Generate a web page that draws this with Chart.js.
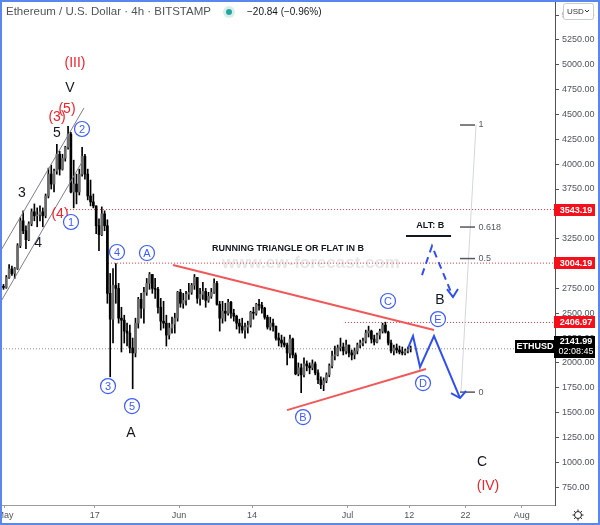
<!DOCTYPE html>
<html>
<head>
<meta charset="utf-8">
<script src="https://cdn.jsdelivr.net/npm/chart.js@4"></script>
<style>
  html, body { margin: 0; padding: 0; background: #fff; }
  canvas { display: block; }
</style>
</head>
<body>
<canvas id="chart" width="600" height="525"></canvas>
<script>
// x unit = days from Jun 1 2021; 12h candles, first one opens Apr 30 00:00
const firstCandleDay = -32;
const firstOpen = 2757;
const highs = [
  2800, 2790, 2880, 2990, 2975, 2960, 3200, 3460, 3530, 3380, 3420, 3550, 3600, 3560, 3580, 3560,
  3700, 3960, 3990, 3950, 4200, 4130, 4100, 4180, 4380, 4320, 4040, 3900, 3950, 4170, 4100, 3950,
  3840, 3700, 3580, 3450, 3570, 3530, 3440, 2900, 2950, 3000, 2800, 2560, 2480, 2400, 2380, 2250,
  2450, 2660, 2700, 2760, 2850, 2910, 2890, 2850, 2760, 2650, 2620, 2480, 2400, 2460, 2500, 2720,
  2740, 2700, 2720, 2800, 2800, 2890, 2860, 2750, 2810, 2750, 2710, 2750, 2845, 2820, 2620, 2620,
  2600, 2640, 2620, 2540, 2480, 2440, 2450, 2400, 2420, 2520, 2560, 2600, 2640, 2610, 2560, 2480,
  2460, 2440, 2370, 2300, 2280, 2260, 2200, 2280, 2250, 2100, 2000, 1990, 2050, 2020, 2000, 2030,
  2010, 1930, 1860, 1850, 1900, 1990, 2120, 2170, 2180, 2250, 2200, 2230, 2180, 2130, 2150, 2200,
  2230, 2250, 2330, 2370, 2330, 2280, 2300, 2340, 2400, 2410, 2320, 2230, 2180, 2190, 2170, 2160,
  2140, 2160, 2170
];
const lows = [
  2720, 2740, 2750, 2850, 2880, 2850, 2940, 3160, 3300, 3150, 3230, 3380, 3430, 3370, 3430, 3370,
  3460, 3660, 3750, 3720, 3900, 3890, 3940, 4030, 4150, 3710, 3560, 3600, 3690, 3880, 3850, 3640,
  3580, 3560, 3300, 3130, 3280, 3330, 2600, 1860, 2200, 2600, 2400, 2110, 2200, 2170, 2100, 1740,
  2060, 2350, 2450, 2400, 2680, 2740, 2700, 2650, 2500, 2330, 2350, 2170, 2240, 2300, 2300, 2420,
  2560, 2550, 2580, 2640, 2690, 2740, 2600, 2580, 2640, 2560, 2610, 2650, 2700, 2580, 2320, 2400,
  2420, 2480, 2450, 2420, 2340, 2300, 2300, 2250, 2300, 2360, 2440, 2480, 2530, 2500, 2440, 2340,
  2330, 2320, 2230, 2170, 2160, 2160, 1980, 2050, 2050, 1880, 1870, 1700, 1860, 1920, 1890, 1930,
  1880, 1790, 1740, 1720, 1800, 1860, 1950, 2030, 2070, 2120, 2080, 2090, 2060, 2030, 2040, 2090,
  2150, 2170, 2200, 2260, 2200, 2180, 2200, 2240, 2300, 2300, 2180, 2100, 2080, 2100, 2090, 2080,
  2080, 2100, 2110
];
const closes = [
  2770, 2760, 2860, 2945, 2900, 2950, 3180, 3430, 3330, 3240, 3400, 3520, 3480, 3490, 3520, 3480,
  3680, 3900, 3800, 3930, 4100, 3950, 4060, 4170, 4300, 3720, 3800, 3720, 3900, 4080, 3900, 3680,
  3620, 3580, 3380, 3290, 3500, 3380, 2700, 2440, 2780, 2750, 2450, 2430, 2320, 2300, 2150, 2100,
  2400, 2640, 2550, 2710, 2800, 2890, 2750, 2740, 2560, 2420, 2400, 2280, 2350, 2390, 2450, 2710,
  2600, 2630, 2690, 2710, 2780, 2860, 2650, 2690, 2720, 2630, 2670, 2710, 2800, 2590, 2450, 2520,
  2500, 2610, 2500, 2470, 2400, 2370, 2330, 2360, 2380, 2510, 2500, 2590, 2580, 2550, 2460, 2360,
  2400, 2370, 2250, 2230, 2200, 2180, 2100, 2240, 2080, 1890, 1950, 1880, 1990, 1970, 1950, 1990,
  1900, 1830, 1780, 1820, 1880, 1970, 2070, 2080, 2150, 2160, 2120, 2180, 2100, 2080, 2120, 2180,
  2200, 2220, 2300, 2320, 2240, 2210, 2280, 2320, 2380, 2310, 2200, 2120, 2150, 2130, 2110, 2100,
  2120, 2140, 2142
];

const xTickDays = [-31, -15, 0, 13, 30, 41, 51, 61];
const xTickLabels = ['May', '17', 'Jun', '14', 'Jul', '12', '22', 'Aug'];
const yTickValues = [750, 1000, 1250, 1500, 1750, 2000, 2250, 2500, 2750, 3000, 3250, 3500,
  3750, 4000, 4250, 4500, 4750, 5000, 5250, 5500];

const lastPrice = 2141.99;
const redLevels = [3543.19, 3004.19, 2406.97];
const redLevelStarts = [-19.94, -12.64, 29.55];

// drawings, [day, price]
const upperTriangle = [[-1.07, 2985], [45.40, 2331]];
const lowerTriangle = [[19.23, 1525], [43.97, 1938]];
const projection = [[40.77, 2149], [41.66, 2270], [42.91, 1958], [45.40, 2270], [50.03, 1646]];
const projectionHead = [[48.43, 1696], [50.03, 1646], [51.10, 1717]];
const altPath = [[43.26, 2884], [45.04, 3176], [48.78, 2663]];
const altHead = [[47.71, 2743], [48.78, 2663], [49.67, 2743]];
const channelUpper = [[-31.87, 3116], [-16.91, 4566]];
const channelLower = [[-31.87, 2602], [-17.27, 4022]];
const altUnderline = [[40.41, 3277], [48.43, 3277]];
const fibStem = [[52.88, 4394], [50.20, 1706]];
const fibHigh = 4394;
const fibLow = 1706;
const fibRatios = [1, 0.618, 0.5, 0];
const fibRatioLabels = ['1', '0.618', '0.5', '0'];

const waveLabels = [
  ['(III)', -18.52, 5018, 'red'], ['V', -19.41, 4767, 'black'], ['(5)', -19.94, 4555, 'red'],
  ['(3)', -21.72, 4475, 'red'], ['5', -21.72, 4314, 'black'], ['3', -27.95, 3710, 'black'],
  ['(4)', -21.19, 3498, 'red'], ['4', -25.10, 3206, 'black'], ['A', -8.55, 1294, 'black'],
  ['B', 46.47, 2633, 'black'], ['C', 53.94, 1002, 'black'], ['(IV)', 55.01, 760, 'red']
];
const circledLabels = [
  ['2', -17.27, 4354], ['1', -19.23, 3418], ['4', -11.04, 3116], ['A', -5.70, 3106],
  ['3', -12.64, 1767], ['5', -8.37, 1566], ['C', 37.21, 2623], ['E', 46.11, 2441],
  ['D', 43.44, 1797], ['B', 22.08, 1455]
];
const titleLabels = [['RUNNING TRIANGLE OR FLAT IN B', 19.41, 3156], ['ALT: B', 44.73, 3378]];
const watermark = ['www.ew-forecast.com', 23.5, 3005];

const FONT = '"Liberation Sans", Arial, sans-serif';
const BLUE = '#2f50f0';
const RED = '#f2212b';

const candleX = closes.map((c, i) => firstCandleDay + 0.25 + i * 0.5);
const opens = closes.map((c, i) => (i === 0 ? firstOpen : closes[i - 1]));
const wicks = closes.map((c, i) => ({ x: candleX[i], y: [lows[i], highs[i]] }));
const bodies = closes.map((c, i) => ({ x: candleX[i], y: [Math.min(opens[i], c), Math.max(opens[i], c)] }));
const bodyColors = closes.map((c, i) => (c >= opens[i] ? '#6a6a6a' : '#000000'));

const pts = arr => arr.map(p => ({ x: p[0], y: p[1] }));
const lineSet = (data, color, width, dash, order) => ({
  type: 'line', data: pts(data), borderColor: color, borderWidth: width,
  borderDash: dash || [], pointRadius: 0, tension: 0, fill: false, order: order
});

const datasets = [
  { type: 'bar', data: wicks, backgroundColor: '#000', barThickness: 1, grouped: false, order: 10 },
  { type: 'bar', data: bodies, backgroundColor: bodyColors, barThickness: 2, minBarLength: 1, grouped: false, order: 9 },
  lineSet([[-31.87, lastPrice], [66.94, lastPrice]], '#8a8d96', 1, [1, 2], 20),
  lineSet(upperTriangle, '#f0585a', 2, null, 2),
  lineSet(lowerTriangle, '#f0585a', 2, null, 2),
  lineSet(projection, BLUE, 2, null, 1),
  lineSet(projectionHead, BLUE, 2, null, 1),
  lineSet(altPath, BLUE, 2, [7, 5], 1),
  lineSet(altHead, BLUE, 2, null, 1),
  lineSet(channelUpper, '#7d7f88', 1, null, 3),
  lineSet(channelLower, '#7d7f88', 1, null, 3),
  lineSet(altUnderline, '#131722', 2, null, 1),
  lineSet(fibStem, '#d4d6de', 1, null, 5)
];
redLevels.forEach((lvl, i) => {
  datasets.push(lineSet([[redLevelStarts[i], lvl], [66.94, lvl]], '#f23645', 1, [1, 2], 20));
});
fibRatios.forEach(r => {
  const v = fibLow + (fibHigh - fibLow) * r;
  datasets.push(lineSet([[50.03, v], [52.70, v]], '#555861', 1.5, null, 4));
});

const overlay = {
  id: 'overlay',
  beforeDatasetsDraw(chart) {
    const { ctx } = chart;
    const xs = chart.scales.x, ys = chart.scales.y;
    ctx.save();
    ctx.font = 'bold 17px ' + FONT;
    ctx.fillStyle = 'rgba(110,110,110,0.17)';
    ctx.textAlign = 'center';
    ctx.textBaseline = 'middle';
    ctx.fillText(watermark[0], xs.getPixelForValue(watermark[1]), ys.getPixelForValue(watermark[2]));
    ctx.restore();
  },
  afterDraw(chart) {
    const { ctx } = chart;
    const xs = chart.scales.x, ys = chart.scales.y;
    const px = d => xs.getPixelForValue(d);
    const py = v => ys.getPixelForValue(v);
    ctx.save();
    ctx.textAlign = 'center';
    ctx.textBaseline = 'middle';

    waveLabels.forEach(([t, d, v, kind]) => {
      ctx.font = '14px ' + FONT;
      ctx.fillStyle = kind === 'red' ? RED : '#131722';
      ctx.fillText(t, px(d), py(v));
    });

    circledLabels.forEach(([t, d, v]) => {
      const cx = px(d), cy = py(v);
      ctx.beginPath();
      ctx.arc(cx, cy, 7.5, 0, Math.PI * 2);
      ctx.fillStyle = '#fff';
      ctx.fill();
      ctx.lineWidth = 1.2;
      ctx.strokeStyle = '#3d5cff';
      ctx.stroke();
      ctx.font = '11px ' + FONT;
      ctx.fillStyle = '#3d5cff';
      ctx.fillText(t, cx, cy + 0.5);
    });

    ctx.font = 'bold 9px ' + FONT;
    ctx.fillStyle = '#131722';
    titleLabels.forEach(([t, d, v]) => ctx.fillText(t, px(d), py(v)));

    ctx.font = '9px ' + FONT;
    ctx.fillStyle = '#555861';
    ctx.textAlign = 'left';
    fibRatios.forEach((r, i) => {
      ctx.fillText(fibRatioLabels[i], px(53.32), py(fibLow + (fibHigh - fibLow) * r));
    });

    // header
    ctx.font = '11.5px ' + FONT;
    ctx.fillStyle = '#50535e';
    ctx.fillText('Ethereum / U.S. Dollar · 4h · BITSTAMP', 6, 12);
    ctx.beginPath();
    ctx.arc(229, 12, 6, 0, Math.PI * 2);
    ctx.fillStyle = '#d7efec';
    ctx.fill();
    ctx.beginPath();
    ctx.arc(229, 12, 3, 0, Math.PI * 2);
    ctx.fillStyle = '#26a69a';
    ctx.fill();
    ctx.font = '10px ' + FONT;
    ctx.fillStyle = '#131722';
    ctx.fillText('\u221220.84 (\u22120.96%)', 247, 12);

    // price labels on the axis
    const right = chart.chartArea.right;
    ctx.textAlign = 'center';
    redLevels.forEach(lvl => {
      const y = Math.round(py(lvl));
      ctx.fillStyle = '#f50f1b';
      ctx.fillRect(right - 1, y - 6, 41, 12);
      ctx.font = 'bold 9px ' + FONT;
      ctx.fillStyle = '#fff';
      ctx.fillText(lvl.toFixed(2), right + 21, y + 0.5);
    });
    const ly = Math.round(py(lastPrice));
    ctx.fillStyle = '#000';
    ctx.fillRect(right - 1, ly - 13, 41, 22);
    ctx.fillRect(right - 40, ly - 9, 39, 13);
    ctx.fillStyle = '#fff';
    ctx.font = 'bold 9px ' + FONT;
    ctx.fillText(lastPrice.toFixed(2), right + 21, ly - 7);
    ctx.fillText('ETHUSD', right - 20, ly - 2.5);
    ctx.font = '9px ' + FONT;
    ctx.fillText('02:08:45', right + 21, ly + 3);

    // currency button
    ctx.fillStyle = '#fff';
    ctx.strokeStyle = '#c9cbd1';
    ctx.lineWidth = 1;
    ctx.beginPath();
    ctx.roundRect(563.5, 3.5, 30, 16, 2);
    ctx.fill();
    ctx.stroke();
    ctx.fillStyle = '#333';
    ctx.font = '8px ' + FONT;
    ctx.textAlign = 'left';
    ctx.fillText('USD', 567, 11.5);
    ctx.beginPath();
    ctx.moveTo(585, 10);
    ctx.lineTo(587, 12);
    ctx.lineTo(589, 10);
    ctx.strokeStyle = '#333';
    ctx.stroke();

    // gear
    ctx.strokeStyle = '#222';
    ctx.lineWidth = 1;
    ctx.beginPath();
    ctx.arc(578, 515, 3.5, 0, Math.PI * 2);
    ctx.stroke();
    for (let k = 0; k < 8; k++) {
      const a = k * Math.PI / 4;
      ctx.beginPath();
      ctx.moveTo(578 + Math.cos(a) * 3.5, 515 + Math.sin(a) * 3.5);
      ctx.lineTo(578 + Math.cos(a) * 5.5, 515 + Math.sin(a) * 5.5);
      ctx.stroke();
    }

    // frame
    ctx.strokeStyle = '#5a86f0';
    ctx.lineWidth = 2;
    ctx.strokeRect(1, 1, 598, 523);
    ctx.restore();
  }
};

new Chart(document.getElementById('chart').getContext('2d'), {
  type: 'bar',
  data: { datasets: datasets },
  plugins: [overlay],
  options: {
    responsive: false,
    animation: false,
    events: [],
    layout: { padding: 0 },
    plugins: { legend: { display: false }, tooltip: { enabled: false } },
    scales: {
      x: {
        type: 'linear',
        min: -31.87,
        max: 66.94,
        offset: false,
        grid: { display: true, drawOnChartArea: false, drawTicks: true, tickLength: 3, color: '#9a9ca3', offset: false },
        border: { color: '#9a9ca3', width: 1 },
        ticks: {
          autoSkip: false,
          maxRotation: 0,
          padding: 2,
          color: '#50535e',
          font: { family: FONT, size: 9 },
          callback: v => xTickLabels[xTickDays.indexOf(v)]
        },
        afterBuildTicks: s => { s.ticks = xTickDays.map(v => ({ value: v })); },
        afterFit: s => { s.height = 20; s.paddingLeft = 0; s.paddingRight = 0; }
      },
      y: {
        type: 'linear',
        position: 'right',
        min: 570,
        max: 5652,
        beginAtZero: false,
        grid: { display: true, drawOnChartArea: false, drawTicks: true, tickLength: 4, color: '#50535e' },
        border: { color: '#50535e', width: 1 },
        ticks: {
          autoSkip: false,
          padding: 3,
          color: '#50535e',
          font: { family: FONT, size: 9 },
          callback: v => v.toFixed(2)
        },
        afterBuildTicks: s => { s.ticks = yTickValues.map(v => ({ value: v })); },
        afterFit: s => { s.width = 45; s.paddingTop = 0; s.paddingBottom = 0; }
      }
    }
  }
});
</script>
</body>
</html>
